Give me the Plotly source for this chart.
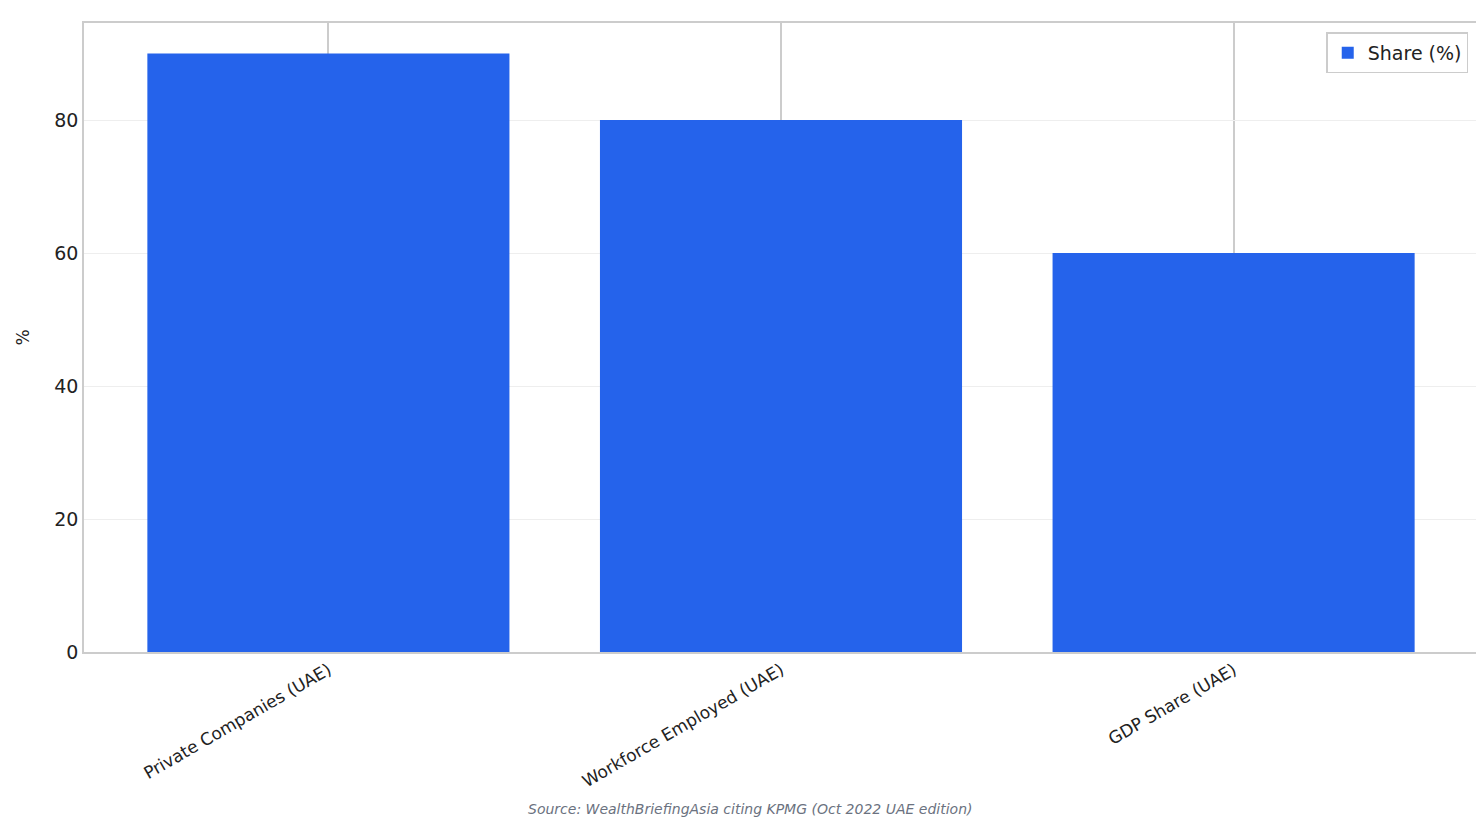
import plotly.graph_objects as go

categories = ["Private Companies (UAE)", "Workforce Employed (UAE)", "GDP Share (UAE)"]
values = [90, 80, 60]
y_ticks = [0, 20, 40, 60, 80]

fig = go.Figure()
fig.add_trace(go.Bar(x=list(range(len(categories))), y=values, name="Share (%)",
                     marker=dict(color="#2563eb", line=dict(width=0)), width=0.8))
fig.update_layout(
    width=1484, height=824, plot_bgcolor="white", paper_bgcolor="white",
    font=dict(family="DejaVu Sans", size=19, color="#222"),
    margin=dict(l=76, r=14, t=15, b=180),
    showlegend=True,
    legend=dict(x=0.993, y=0.985, xanchor="right", yanchor="top", bordercolor="#ccc",
                borderwidth=1.5, font=dict(size=19)),
    bargap=0.2,
)
fig.update_xaxes(range=[-0.54, 2.54], tickmode="array", tickvals=list(range(len(categories))),
                 ticktext=categories, tickangle=-30, tickfont=dict(size=17),
                 showgrid=True, gridcolor="#cccccc", gridwidth=1.5,
                 showline=True, linecolor="#cccccc", linewidth=1.5, mirror=True, zeroline=False)
fig.update_yaxes(range=[0, 94.6], tickvals=y_ticks, showgrid=True, gridcolor="#eeeeee",
                 title=dict(text="%", font=dict(size=17), standoff=20),
                 showline=True, linecolor="#cccccc", linewidth=1.5, mirror=True, zeroline=False)
fig.add_annotation(text="<i>Source: WealthBriefingAsia citing KPMG (Oct 2022 UAE edition)</i>",
                   xref="paper", yref="paper", x=0.478, y=-0.249, showarrow=False,
                   font=dict(size=14, color="#6b7280"), xanchor="center", yanchor="middle")
fig.write_html("out.html")
